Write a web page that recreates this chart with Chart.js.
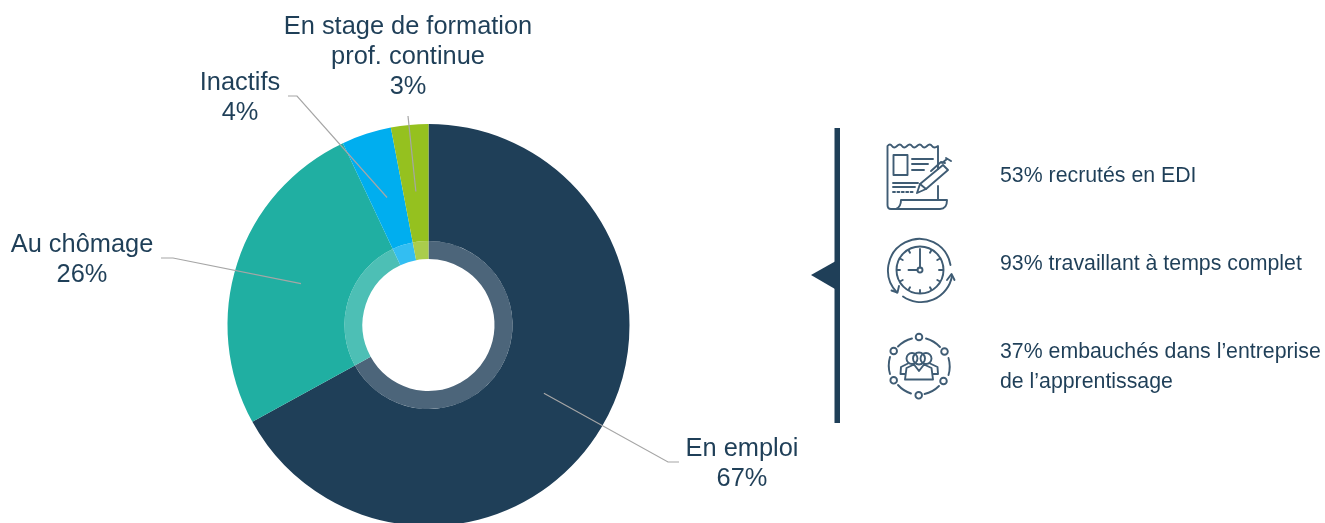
<!DOCTYPE html>
<html><head><meta charset="utf-8">
<script src="https://cdn.jsdelivr.net/npm/chart.js@4"></script>
<style>
html,body{margin:0;padding:0;background:#fff;width:1325px;height:523px;overflow:hidden}
#wrap{position:relative;width:1325px;height:523px;overflow:hidden}
#wrap canvas{position:absolute;left:0;top:0}
#panel{position:absolute;left:0;top:0}
#panel text{font-family:"Liberation Sans",Arial,sans-serif;font-size:21.3px;fill:#1f3f58}
.i{fill:none;stroke:#3f5c74;stroke-width:1.9;stroke-linecap:round;stroke-linejoin:round}
</style></head><body>
<div id="wrap">
<canvas id="c" width="1325" height="530" style="width:1325px;height:530px"></canvas>
<svg id="panel" width="1325" height="523" viewBox="0 0 1325 523">
  <rect x="834.5" y="128" width="5.5" height="295" fill="#1f3f58"/>
  <path d="M811 275L835 261.5V289Z" fill="#1f3f58"/>
  <!-- document icon -->
  <g class="i">
    <path d="M896 209H891Q887.5 209 887.5 205V146Q890 143 892 146T897 146T902 146T907 146T912 146T917 146T922 146T927 146T932 146T938 146V169M938 186V200"/>
    <path d="M901 200H947Q947 209 940 209H896Q901 207 901 200Z"/>
    <rect x="893.5" y="155" width="14" height="20"/>
    <path d="M912 159H933M912 164H928M912 170H924M893 183H918M893 187H915"/>
    <path d="M893 192H913" stroke-dasharray="2 2.4"/>
    <path d="M917 193L920 184L943 165L948 170L926 189Z"/>
    <path d="M920 184L926 189M931 171L941 162L945 163M946 158L951 161M942 163L947 159"/>
  </g>
  <!-- clock icon -->
  <g class="i">
    <circle cx="920" cy="270" r="23.5"/>
    <path d="M950.5 265A31.5 31.5 0 1 0 897 292.5"/>
    <path d="M891.5 290.5L897.5 292.5L899 286"/>
    <path d="M903 296.5A31.5 31.5 0 0 0 952 276"/>
    <path d="M947 280L951.5 274L954.5 280"/>
    <path d="M920 267.5V249M917.5 270H908.5"/>
    <circle cx="920" cy="270" r="2.5"/>
    <path d="M920 290V293M930 252.7L931.5 250M937.3 260L940 258.5M939 270H943M937.3 280L940 281.5M930 287.3L931.5 290M910 287.3L908.5 290M902.7 280L900 281.5M897 270H900M902.7 260L900 258.5M910 252.7L908.5 250"/>
  </g>
  <!-- people icon -->
  <g class="i">
    <circle cx="919" cy="337" r="3.3"/><circle cx="944.5" cy="351.5" r="3.3"/>
    <circle cx="943.5" cy="381" r="3.3"/><circle cx="918.7" cy="395.3" r="3.3"/>
    <circle cx="893.7" cy="380.3" r="3.3"/><circle cx="893.7" cy="351" r="3.3"/>
    <path d="M926 338.5A30 30 0 0 1 940 347M948.5 358A30 30 0 0 1 948.5 375M939 386A30 30 0 0 1 924.5 394M911 393.5A30 30 0 0 1 898 385M890 374A30 30 0 0 1 890 357M898 346.500A30 30 0 0 1 912 338.500"/>
    <circle cx="919" cy="358.500" r="6"/><circle cx="912" cy="358.500" r="5.500"/><circle cx="926" cy="358.500" r="5.500"/>
    <path d="M905 379.500H933L931.500 368L924 364.500L919 371L914 364.500L906.500 368Z"/>
    <path d="M905 374H900.500L901 367L908 363.500M933 374H938L937.500 367L930 363.500"/>
  </g>
  <text x="1000" y="182">53% recrutés en EDI</text>
  <text x="1000" y="270">93% travaillant à temps complet</text>
  <text x="1000" y="358">37% embauchés dans l’entreprise</text>
  <text x="1000" y="388">de l’apprentissage</text>
</svg>
</div>
<script>
const categories = ["En emploi", "Au chômage", "Inactifs", "En stage de formation prof. continue"];
const values = [67, 26, 4, 3];
const sliceColors = ["#1f3f58", "#20afa2", "#00aeef", "#95c11f"];
const ringColors = ["#4c657a", "#4dbfb5", "#33bef2", "#aacd4c"];
const labelLines = [["En emploi", "67%"], ["Au chômage", "26%"], ["Inactifs", "4%"], ["En stage de formation", "prof. continue", "3%"]];
const labelPos = [[742, 456], [82, 252], [240, 90], [408, 34]];
const leaderElbows = [[[679, 462], [668, 462]], [[161, 258], [173, 258]], [[288, 96], [297, 96]], [[408, 116]]];

const labelsPlugin = {
  id: "calloutLabels",
  afterDatasetsDraw(chart) {
    const ctx = chart.ctx;
    const arcs = chart.getDatasetMeta(0).data;
    ctx.save();
    arcs.forEach((arc, i) => {
      const p = arc.getProps(["x", "y", "startAngle", "endAngle", "outerRadius"], true);
      const mid = (p.startAngle + p.endAngle) / 2;
      const r = p.outerRadius * 0.667;
      const ax = p.x + Math.cos(mid) * r, ay = p.y + Math.sin(mid) * r;
      ctx.beginPath();
      leaderElbows[i].forEach((q, k) => k ? ctx.lineTo(q[0], q[1]) : ctx.moveTo(q[0], q[1]));
      ctx.lineTo(ax, ay);
      ctx.strokeStyle = "#a6a6a6";
      ctx.lineWidth = 1.2;
      ctx.stroke();
    });
    ctx.font = '25.4px "Liberation Sans", Arial, sans-serif';
    ctx.fillStyle = "#1f3f58";
    ctx.textAlign = "center";
    ctx.textBaseline = "alphabetic";
    labelLines.forEach((lines, i) => lines.forEach((t, k) => ctx.fillText(t, labelPos[i][0], labelPos[i][1] + k * 30)));
    ctx.restore();
  }
};

new Chart(document.getElementById("c"), {
  type: "doughnut",
  data: {
    labels: categories,
    datasets: [
      { data: values, backgroundColor: sliceColors, borderWidth: 0, weight: 117 },
      { data: values, backgroundColor: ringColors, borderWidth: 0, weight: 18 }
    ]
  },
  options: {
    responsive: false,
    animation: false,
    cutout: 66,
    layout: { padding: { left: 227.5, right: 695.5, top: 124, bottom: 4 } },
    plugins: { legend: { display: false }, tooltip: { enabled: false } }
  },
  plugins: [labelsPlugin]
});
</script>
</body></html>
